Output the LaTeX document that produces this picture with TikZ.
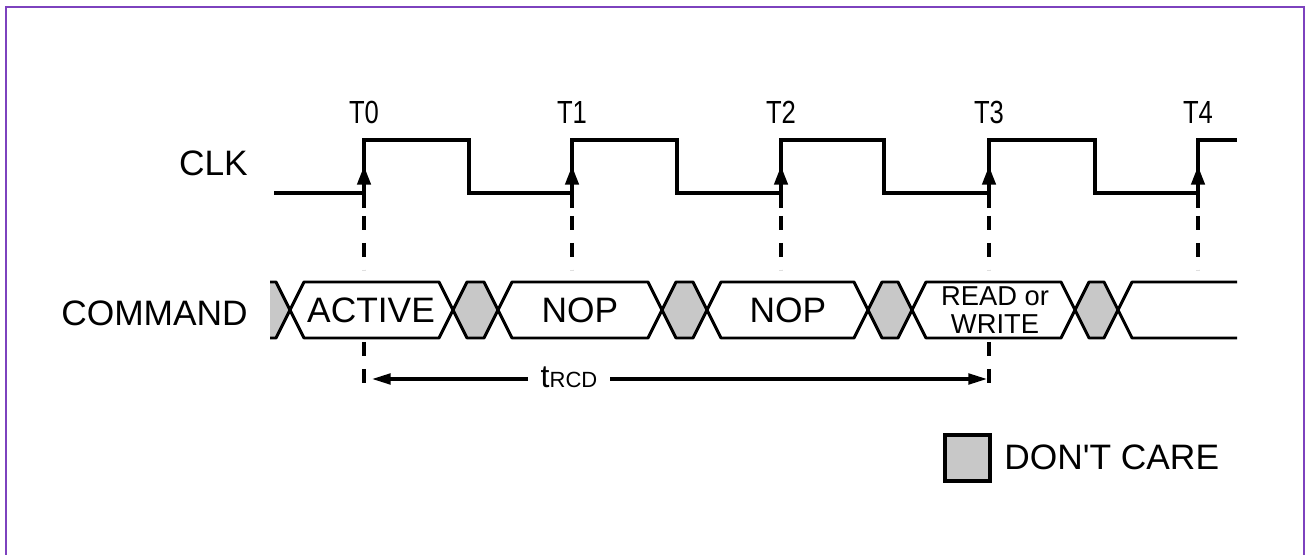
\documentclass[tikz,border=0pt]{standalone}
\usepackage{graphicx}
\usepackage{fontspec}
\setmainfont{Liberation Sans}
\usetikzlibrary{arrows.meta}
\definecolor{framecol}{RGB}{125,66,190}
\definecolor{dc}{RGB}{200,200,200}
\begin{document}
\begin{tikzpicture}[x=0.75pt,y=-0.75pt,
  wave/.style={line width=2.6pt, line join=miter},
  bus/.style={line width=2.2pt, line join=round},
  vdash/.style={line width=2.3pt, dash pattern=on 10.5pt off 9.75pt},
  edgearrow/.style={line width=2.6pt, -{Triangle[length=14pt,width=10pt]}},
  dimarrow/.style={line width=2.3pt, -{Triangle[length=14pt,width=8pt]}},
  lbl/.style={font=\fontsize{26.5}{30}\selectfont, inner sep=0pt},
  rwlbl/.style={font=\fontsize{20.5}{24}\selectfont, inner sep=0pt, anchor=base},
  tlbl/.style={inner sep=0pt},
  dcfill/.style={bus, fill=dc}
]
\useasboundingbox (0,0) rectangle (1306,555);
\draw[framecol, line width=1.7pt] (6,555) -- (6,7) -- (1304,7) -- (1304,555);

% labels
\node[lbl, anchor=east] (clk) at (248,163) {CLK};
\node[lbl, anchor=east] (cmd) at (248,313) {COMMAND};
\foreach \i/\x in {0/364,1/572,2/781,3/989,4/1198}{
  \node[tlbl] (T\i) at (\x,112) {\scalebox{0.8}[1]{\fontsize{24}{28}\selectfont T\i}};
  \coordinate (eb\i) at (\x,208);
  \coordinate (et\i) at (\x,166);
  \coordinate (ds\i) at (\x,216);
  \coordinate (de\i) at (\x,270);
  \draw[edgearrow] (eb\i) -- (et\i);
  \draw[vdash] (ds\i) -- (de\i);
}
% clock
\draw[wave] (274,193) -- (364,193) -- (364,140) -- (469,140) -- (469,193) -- (572,193) -- (572,140) -- (677,140) -- (677,193) -- (781,193) -- (781,140) -- (884,140) -- (884,193) -- (989,193) -- (989,140) -- (1095,140) -- (1095,193) -- (1198,193) -- (1198,140) -- (1237,140);

% bus
\fill[dc] (270,282) -- (276,282) -- (290,310) -- (276,338) -- (270,338) -- cycle;
\draw[bus] (270,282) -- (276,282) -- (290,310) -- (276,338) -- (270,338);
\draw[bus] (290,310) -- (304,282) -- (439,282) -- (453,310) -- (439,338) -- (304,338) -- cycle;
\draw[dcfill] (453,310) -- (467,282) -- (484,282) -- (498,310) -- (484,338) -- (467,338) -- cycle;
\draw[bus] (498,310) -- (512,282) -- (648,282) -- (662,310) -- (648,338) -- (512,338) -- cycle;
\draw[dcfill] (662,310) -- (676,282) -- (693,282) -- (707,310) -- (693,338) -- (676,338) -- cycle;
\draw[bus] (707,310) -- (721,282) -- (854,282) -- (868,310) -- (854,338) -- (721,338) -- cycle;
\draw[dcfill] (868,310) -- (882,282) -- (898,282) -- (912,310) -- (898,338) -- (882,338) -- cycle;
\draw[bus] (912,310) -- (926,282) -- (1061,282) -- (1075,310) -- (1061,338) -- (926,338) -- cycle;
\draw[dcfill] (1075,310) -- (1089,282) -- (1104,282) -- (1118,310) -- (1104,338) -- (1089,338) -- cycle;
\draw[bus] (1237,282) -- (1132,282) -- (1118,310) -- (1132,338) -- (1237,338);

\node[lbl] (active) at (371,310) {ACTIVE};
\node[lbl] (nop1) at (580,310) {NOP};
\node[lbl] (nop2) at (788,310) {NOP};
\node[rwlbl] (rw1) at (995,306) {READ or};
\node[rwlbl] (rw2) at (995,334) {WRITE};

% lower dashes
\coordinate (ls0) at (364,342); \coordinate (le0) at (364,388);
\coordinate (ls3) at (989,342); \coordinate (le3) at (989,388);
\draw[vdash] (ls0) -- (le0);
\draw[vdash] (ls3) -- (le3);

% tRCD
\node[inner sep=0pt, anchor=base] (trcd) at (569,388) {\fontsize{24}{28}\selectfont t\fontsize{16.5}{20}\selectfont RCD};
\coordinate (a0) at (372,379);
\coordinate (a3) at (987,379);
\coordinate (gl) at (528,379);
\coordinate (gr) at (610,379);
\draw[dimarrow] (gl) -- (a0);
\draw[dimarrow] (gr) -- (a3);

% legend
\node[draw, fill=dc, line width=3pt, minimum width=33.75pt, minimum height=34.5pt, inner sep=0pt] (dcbox) at (967.5,458) {};
\node[lbl, anchor=west] (dctext) at (1004,457) {DON\textquotesingle T CARE};
\end{tikzpicture}
\end{document}
